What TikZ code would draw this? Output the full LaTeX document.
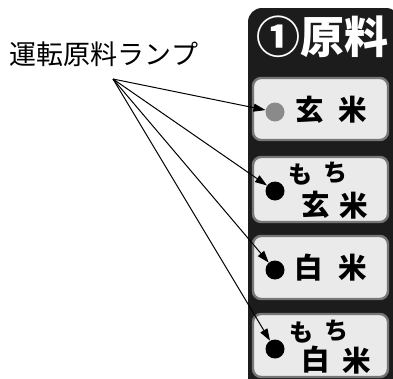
\documentclass[tikz,border=0pt]{standalone}
\usepackage{fontspec}
\newfontfamily\jp{Noto Sans CJK JP}
\usetikzlibrary{arrows.meta}
\definecolor{panelc}{HTML}{1C1C1C}
\definecolor{btnfill}{HTML}{EAEAEA}
\definecolor{btnedge}{HTML}{767676}
\definecolor{ledgray}{HTML}{8A8A8A}
\tikzset{
  btn/.style={draw=btnedge, fill=btnfill, line width=2.4pt, rounded corners=8pt},
  led/.style={circle, inner sep=0pt, minimum size=19pt},
  big/.style={inner sep=0pt, font=\jp\bfseries\fontsize{28.5}{28.5}\selectfont},
  small/.style={inner sep=0pt, font=\jp\bfseries\fontsize{24}{24}\selectfont},
  ptr/.style={line width=1pt, -{Triangle[length=12pt,width=8pt]}},
}
\begin{document}
\begin{tikzpicture}[x=1pt,y=-1pt]
\useasboundingbox (0,0) rectangle (393,378);
\clip (0,0) rectangle (393,378);
\fill[panelc, rounded corners=14pt] (248,8) rectangle (400,400);
\node[inner sep=0pt, text=white, font=\jp\bfseries\fontsize{44}{44}\selectfont] (title) at (322,37) {①原料};
% buttons
\draw[btn] (253,78) rectangle (388,140);
\draw[btn] (253,157) rectangle (388,222);
\draw[btn] (253,236) rectangle (388,299);
\draw[btn] (253,314) rectangle (388,377);
% LEDs
\node[led, fill=ledgray] (l1) at (275,112) {};
\node[led, fill=black] (l2) at (275,191) {};
\node[led, fill=black] (l3) at (275,270) {};
\node[led, fill=black] (l4) at (275,349) {};
% button texts
\node[big] (t1a) at (310,110) {玄};
\node[big] (t1b) at (353,110) {米};
\node[small] (t2a) at (300,175) {も};
\node[small] (t2b) at (335,173) {ち};
\node[big] (t2c) at (316,205) {玄};
\node[big] (t2d) at (354,206) {米};
\node[big] (t3a) at (309,268) {白};
\node[big] (t3b) at (353,268) {米};
\node[small] (t4a) at (301,333) {も};
\node[small] (t4b) at (336,331) {ち};
\node[big] (t4c) at (316,360) {白};
\node[big] (t4d) at (357,361) {米};
% label
\node[inner sep=0pt, font=\jp\fontsize{27}{27}\selectfont] (lab) at (104,54) {運転原料ランプ};
\coordinate (o) at (113,79);
\draw[ptr] (o) -- (l1);
\draw[ptr] (o) -- (l2);
\draw[ptr] (o) -- (l3);
\draw[ptr] (o) -- (l4);
\end{tikzpicture}
\end{document}
